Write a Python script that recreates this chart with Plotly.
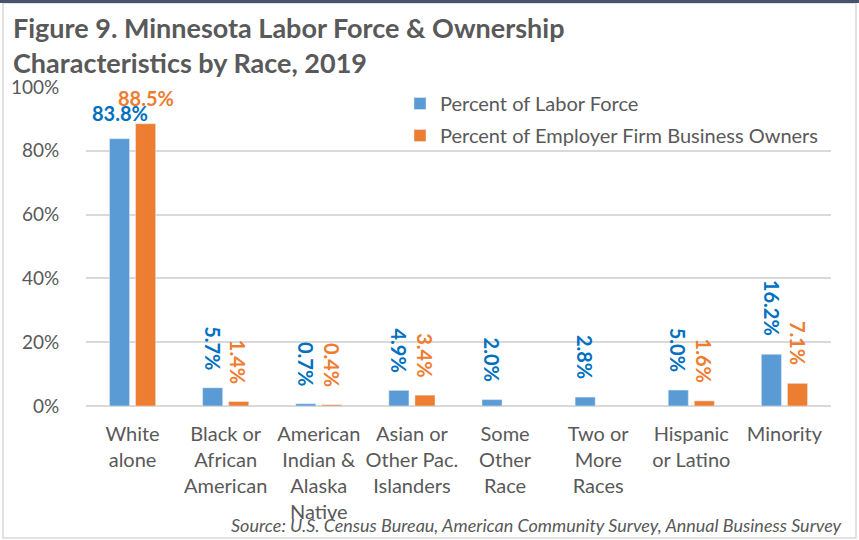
import plotly.graph_objects as go

categories = ["White<br>alone", "Black or<br>African<br>American", "American<br>Indian &<br>Alaska<br>Native",
              "Asian or<br>Other Pac.<br>Islanders", "Some<br>Other<br>Race", "Two or<br>More<br>Races",
              "Hispanic<br>or Latino", "Minority"]
labor_force = [83.8, 5.7, 0.7, 4.9, 2.0, 2.8, 5.0, 16.2]
business_owners = [88.5, 1.4, 0.4, 3.4, None, None, 1.6, 7.1]
series_names = ["Percent of Labor Force", "Percent of Employer Firm Business Owners"]
y_ticks = [0, 20, 40, 60, 80, 100]

BLUE = "#5B9BD5"
ORANGE = "#ED7D31"
BLUE_TXT = "#0070C0"
GRAY = "#595959"
FONT = "Lato"

W, H = 859, 540
L, R, T, B = 86, 28, 87, 134
PW, PH = W - L - R, H - T - B

def px_x(p):
    return (p - L) / PW

def px_y(p):
    return (H - B - p) / PH

fig = go.Figure()
fig.add_trace(go.Bar(x=categories, y=labor_force, name=series_names[0], marker_color=BLUE,
                     legendgroup="a"))
fig.add_trace(go.Bar(x=categories, y=business_owners, name=series_names[1], marker_color=ORANGE,
                     legendgroup="b"))

annotations = []
for i, cat in enumerate(categories):
    for vals, shift, col in ((labor_force, -13, BLUE_TXT), (business_owners, 13, ORANGE)):
        v = vals[i]
        if v is None:
            continue
        angle = 0 if i == 0 else 90
        annotations.append(dict(
            x=cat, y=v, xref="x", yref="y", text=f"{v:.1f}%", showarrow=False,
            textangle=angle, xshift=shift, yanchor="bottom", xanchor="center",
            yshift=12 if angle == 0 else 16,
            font=dict(family=FONT, size=20, color=col, weight="bold"),
        ))

annotations.append(dict(
    x=px_x(11), y=px_y(9), xref="paper", yref="paper",
    text="<b>Figure 9. Minnesota Labor Force & Ownership<br>Characteristics by Race, 2019</b>",
    showarrow=False, xanchor="left", yanchor="top", align="left",
    font=dict(family=FONT, size=27, color=GRAY),
))
annotations.append(dict(
    x=px_x(844), y=px_y(525), xref="paper", yref="paper",
    text="<i>Source: U.S. Census Bureau, American Community Survey, Annual Business Survey</i>",
    showarrow=False, xanchor="right", yanchor="middle",
    font=dict(family=FONT, size=18, color=GRAY),
))

shapes = [
    dict(type="rect", xref="paper", yref="paper",
         x0=px_x(3), x1=px_x(856), y0=px_y(538), y1=px_y(3),
         line=dict(color="#D9D9D9", width=1.5), fillcolor="rgba(0,0,0,0)", layer="below"),
    dict(type="rect", xref="paper", yref="paper",
         x0=px_x(0), x1=px_x(W), y0=px_y(3), y1=px_y(0),
         line=dict(width=0), fillcolor="#44546A"),
]

fig.update_layout(
    width=W, height=H,
    margin=dict(l=L, r=R, t=T, b=B),
    paper_bgcolor="white", plot_bgcolor="white",
    barmode="group", bargap=0.44, bargroupgap=0.23,
    legend=dict(
        x=px_x(400), y=px_y(84), xanchor="left", yanchor="top",
        font=dict(family=FONT, size=20, color=GRAY),
        bgcolor="rgba(0,0,0,0)", tracegroupgap=3,
    ),
    xaxis=dict(
        tickfont=dict(family=FONT, size=20, color=GRAY),
        showline=False, showgrid=False, ticks="outside", ticklen=10,
        tickcolor="rgba(0,0,0,0)", tickangle=0,
    ),
    yaxis=dict(
        range=[0, 100], tickvals=y_ticks, ticktext=[f"{t}%" for t in y_ticks],
        tickfont=dict(family=FONT, size=19, color=GRAY),
        gridcolor="#D9D9D9", gridwidth=1.5, zeroline=True, zerolinecolor="#D9D9D9",
        zerolinewidth=1.5, ticks="outside", ticklen=22, tickcolor="rgba(0,0,0,0)",
    ),
    annotations=annotations,
    shapes=shapes,
    showlegend=True,
)

fig.write_html("out.html", config={"displayModeBar": False},
               post_script="document.body.style.margin='0';")
